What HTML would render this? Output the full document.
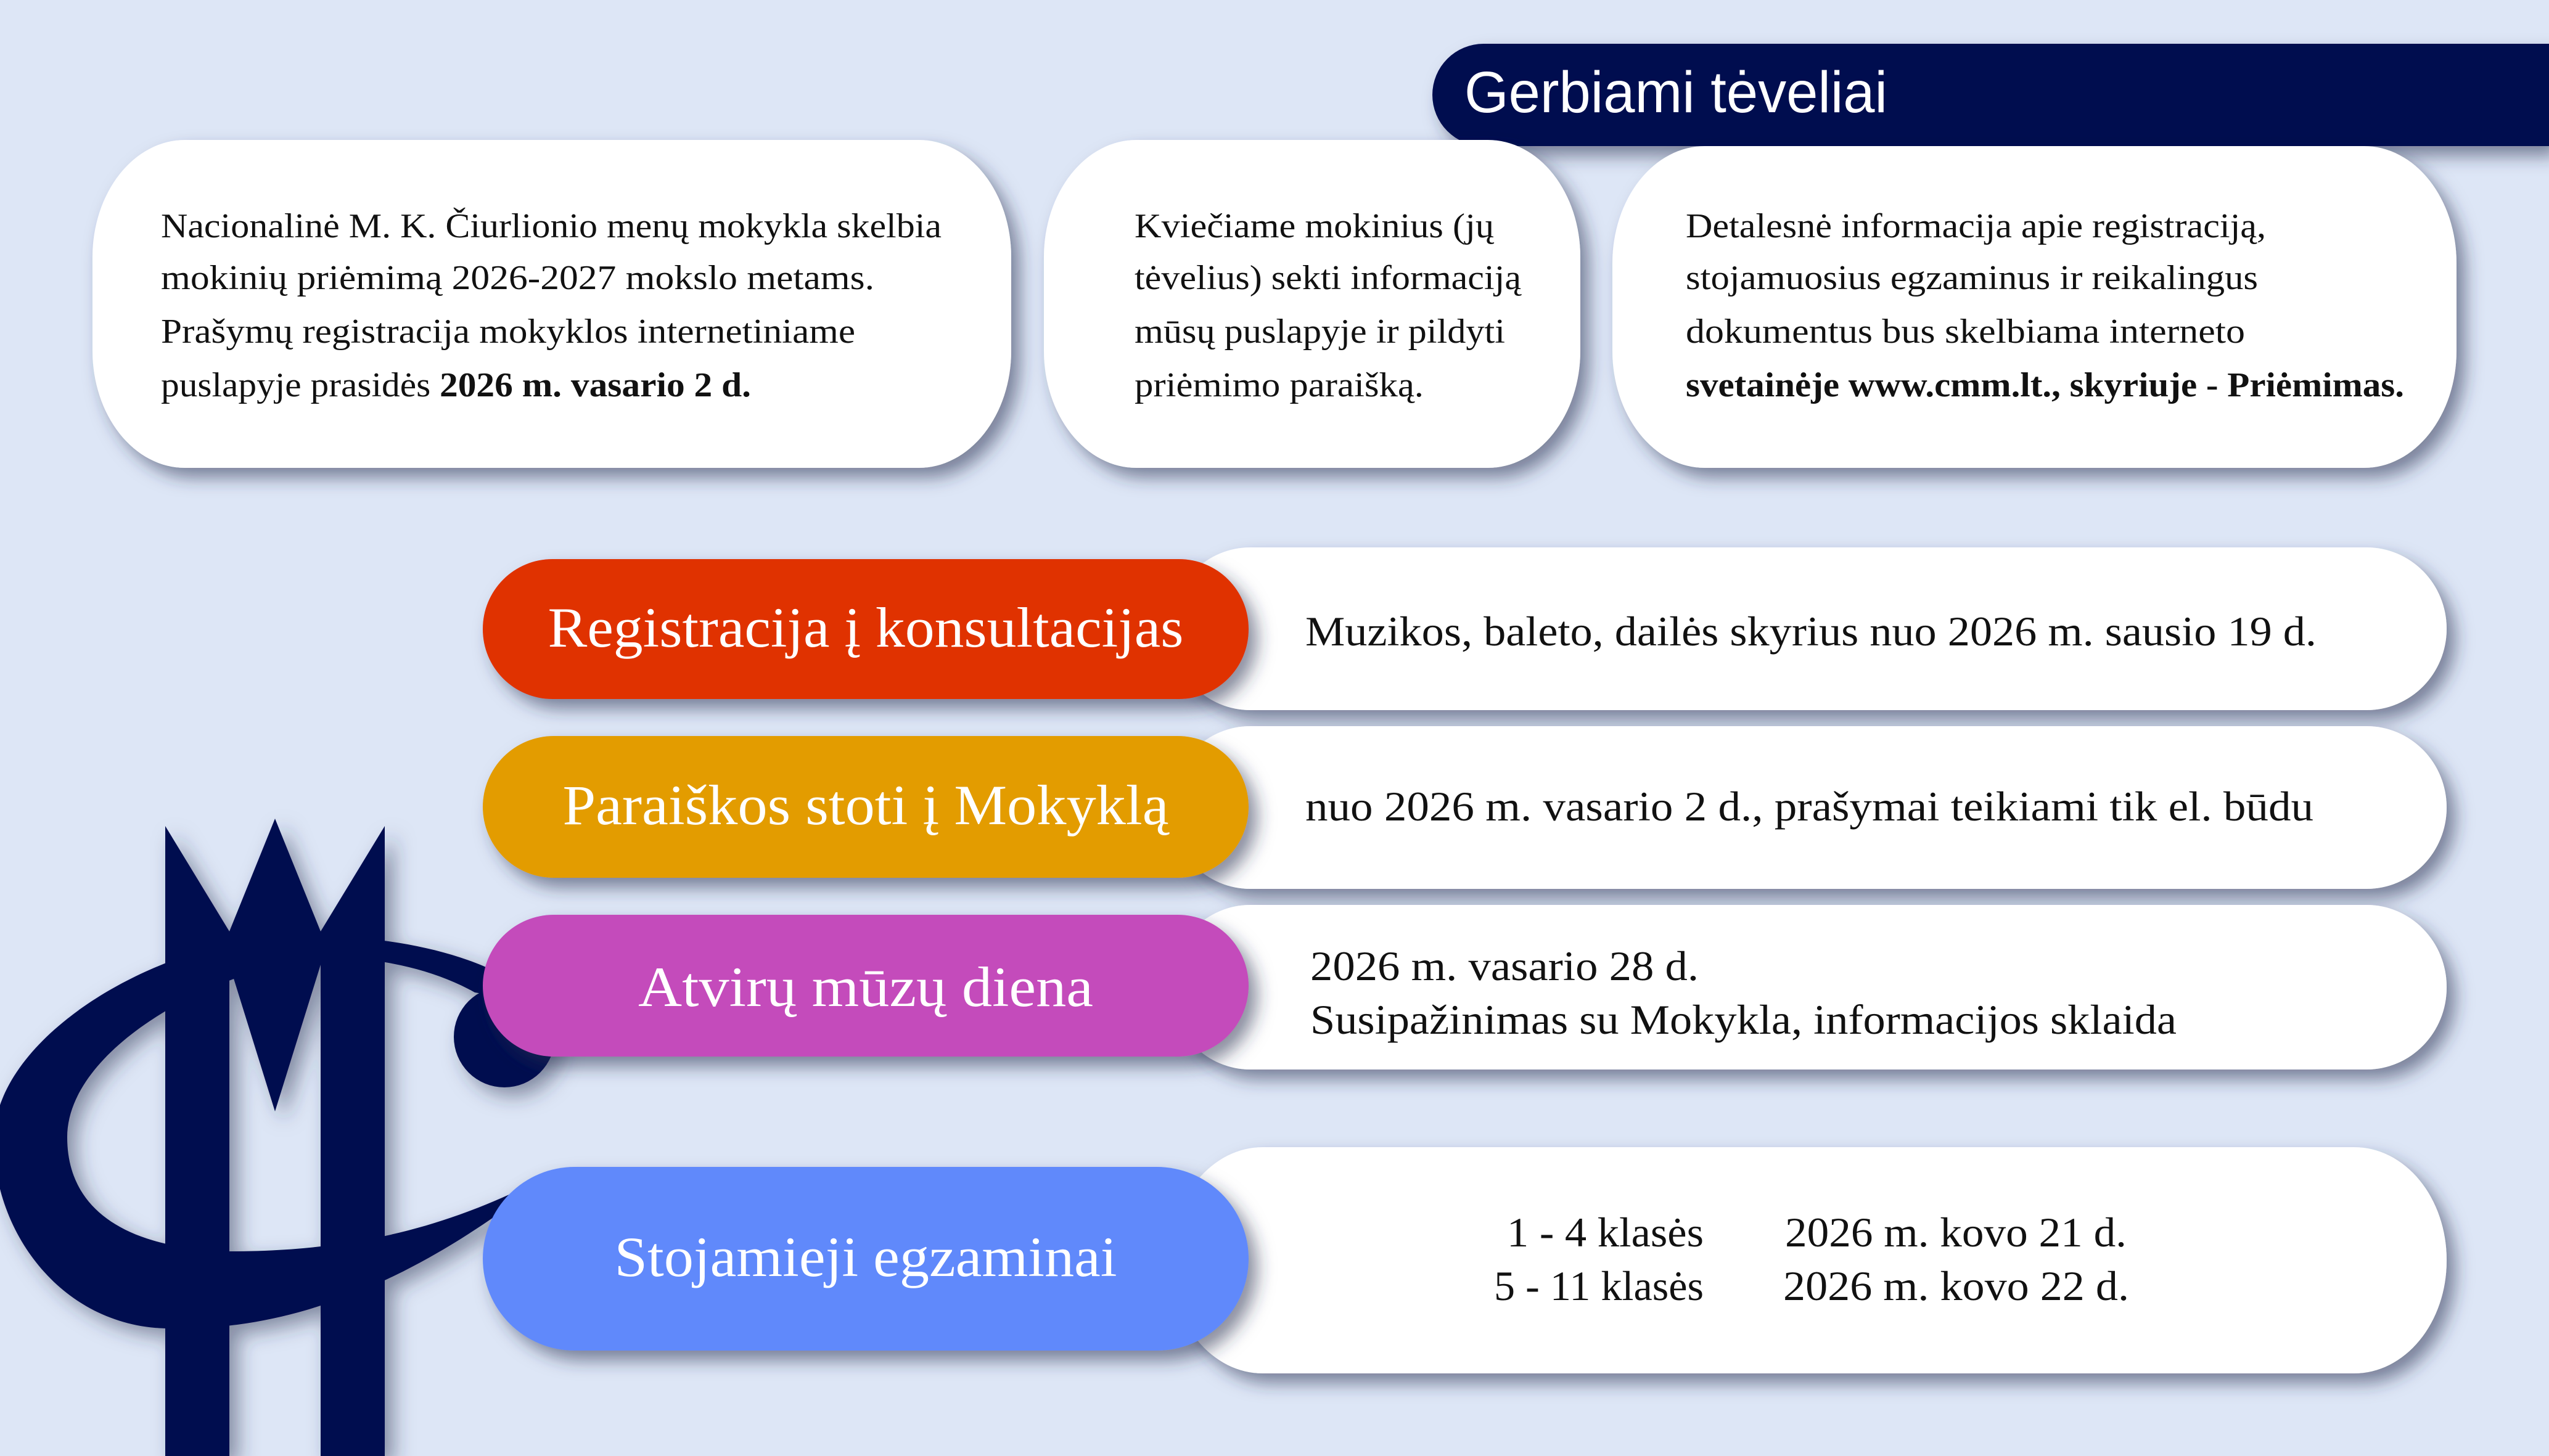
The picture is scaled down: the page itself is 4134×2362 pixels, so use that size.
<!DOCTYPE html>
<html><head><meta charset="utf-8"><style>
html,body{margin:0;padding:0;width:4134px;height:2362px;overflow:hidden;background:#dde6f6}
svg{display:block}
.s{font-family:"Liberation Serif",serif}
</style></head><body>
<svg width="4134" height="2362" viewBox="0 0 4134 2362" xmlns="http://www.w3.org/2000/svg">
<defs>
<filter id="sh" x="-10%" y="-20%" width="125%" height="150%">
<feDropShadow dx="14" dy="16" stdDeviation="14" flood-color="#2a3250" flood-opacity="0.55"/>
</filter>
<filter id="sh2" x="-10%" y="-10%" width="125%" height="125%">
<feDropShadow dx="14" dy="14" stdDeviation="16" flood-color="#2a3250" flood-opacity="0.5"/>
</filter>
</defs>
<rect width="4134" height="2362" fill="#dde6f6"/>

<!-- logo -->
<g fill="#00094f" filter="url(#sh2)">
<path d="M897,1903 C650,2100 450,2160 268,2155 C100,2150 -10,2000 -10,1850 C-10,1700 200,1560 400,1525 C560,1505 780,1530 880,1628 L770,1610 C700,1570 600,1550 520,1555 C350,1570 109,1700 109,1845 C109,1960 200,2025 372,2030 C600,2030 750,1980 897,1903 Z"/>
<circle cx="818" cy="1682" r="82"/>
<polygon points="268,1340 372,1511 446,1328 520,1511 624,1340 624,2362 520,2362 520,1565 446,1803 372,1565 372,2362 268,2362"/>
</g>

<!-- header -->
<path d="M2406,71 H4134 V237 H2406 A83,83 0 0 1 2406,71 Z" fill="#00094f" filter="url(#sh)"/>
<text x="2375" y="182" font-family="Liberation Sans, sans-serif" font-size="95" fill="#fff" textLength="686" lengthAdjust="spacingAndGlyphs">Gerbiami tėveliai</text>

<!-- top cards -->
<g fill="#fff" filter="url(#sh)">
<rect x="150" y="227" width="1490" height="532" rx="150" ry="190"/>
<rect x="1693" y="227" width="870" height="532" rx="150" ry="190"/>
<rect x="2615" y="237" width="1369" height="522" rx="150" ry="190"/>
</g>
<g class="s" font-size="56" fill="#111">
<text x="261" y="385" textLength="1266" lengthAdjust="spacingAndGlyphs">Nacionalinė M. K. Čiurlionio menų mokykla skelbia</text>
<text x="261" y="469" textLength="1157" lengthAdjust="spacingAndGlyphs">mokinių priėmimą 2026-2027 mokslo metams.</text>
<text x="261" y="556" textLength="1126" lengthAdjust="spacingAndGlyphs">Prašymų registracija mokyklos internetiniame</text>
<text x="261" y="643" textLength="957" lengthAdjust="spacingAndGlyphs">puslapyje prasidės <tspan font-weight="bold">2026 m. vasario 2 d.</tspan></text>
<text x="1840" y="385" textLength="583" lengthAdjust="spacingAndGlyphs">Kviečiame mokinius (jų</text>
<text x="1840" y="469" textLength="627" lengthAdjust="spacingAndGlyphs">tėvelius) sekti informaciją</text>
<text x="1840" y="556" textLength="601" lengthAdjust="spacingAndGlyphs">mūsų puslapyje ir pildyti</text>
<text x="1840" y="643" textLength="469" lengthAdjust="spacingAndGlyphs">priėmimo paraišką.</text>
<text x="2734" y="385" textLength="941" lengthAdjust="spacingAndGlyphs">Detalesnė informacija apie registraciją,</text>
<text x="2734" y="469" textLength="928" lengthAdjust="spacingAndGlyphs">stojamuosius egzaminus ir reikalingus</text>
<text x="2734" y="556" textLength="907" lengthAdjust="spacingAndGlyphs">dokumentus bus skelbiama interneto</text>
<text x="2734" y="643" font-weight="bold" textLength="1165" lengthAdjust="spacingAndGlyphs">svetainėje www.cmm.lt., skyriuje - Priėmimas.</text>
</g>

<!-- white pills -->
<g fill="#fff" filter="url(#sh)">
<rect x="1898" y="888" width="2070" height="264" rx="130" ry="132"/>
<rect x="1898" y="1178" width="2070" height="264" rx="130" ry="132"/>
<rect x="1898" y="1468" width="2070" height="267" rx="130" ry="133"/>
<rect x="1898" y="1861" width="2070" height="367" rx="150" ry="183"/>
</g>
<!-- colored pills -->
<g filter="url(#sh)">
<rect x="783" y="907" width="1242" height="227" rx="113" fill="#e03300"/>
<rect x="783" y="1194" width="1242" height="230" rx="115" fill="#e39c00"/>
<rect x="783" y="1484" width="1242" height="230" rx="115" fill="#c44bbb"/>
<rect x="783" y="1893" width="1242" height="298" rx="149" fill="#6189fb"/>
</g>
<g class="s" font-size="92" fill="#fff" text-anchor="middle">
<text x="1404" y="1049" textLength="1031" lengthAdjust="spacingAndGlyphs">Registracija į konsultacijas</text>
<text x="1404" y="1337" textLength="983" lengthAdjust="spacingAndGlyphs">Paraiškos stoti į Mokyklą</text>
<text x="1404" y="1632" textLength="738" lengthAdjust="spacingAndGlyphs">Atvirų mūzų diena</text>
<text x="1404" y="2070" textLength="815" lengthAdjust="spacingAndGlyphs">Stojamieji egzaminai</text>
</g>
<g class="s" font-size="68" fill="#111">
<text x="2117" y="1047" textLength="1640" lengthAdjust="spacingAndGlyphs">Muzikos, baleto, dailės skyrius nuo 2026 m. sausio 19 d.</text>
<text x="2117" y="1331" textLength="1635" lengthAdjust="spacingAndGlyphs">nuo 2026 m. vasario 2 d., prašymai teikiami tik el. būdu</text>
<text x="2125" y="1590" textLength="630" lengthAdjust="spacingAndGlyphs">2026 m. vasario 28 d.</text>
<text x="2125" y="1677" textLength="1405" lengthAdjust="spacingAndGlyphs">Susipažinimas su Mokykla, informacijos sklaida</text>
<text x="2444" y="2022" textLength="319" lengthAdjust="spacingAndGlyphs">1 - 4 klasės</text>
<text x="2423" y="2109" textLength="340" lengthAdjust="spacingAndGlyphs">5 - 11 klasės</text>
<text x="2895" y="2022" textLength="554" lengthAdjust="spacingAndGlyphs">2026 m. kovo 21 d.</text>
<text x="2892" y="2109" textLength="561" lengthAdjust="spacingAndGlyphs">2026 m. kovo 22 d.</text>
</g>
</svg>
</body></html>
